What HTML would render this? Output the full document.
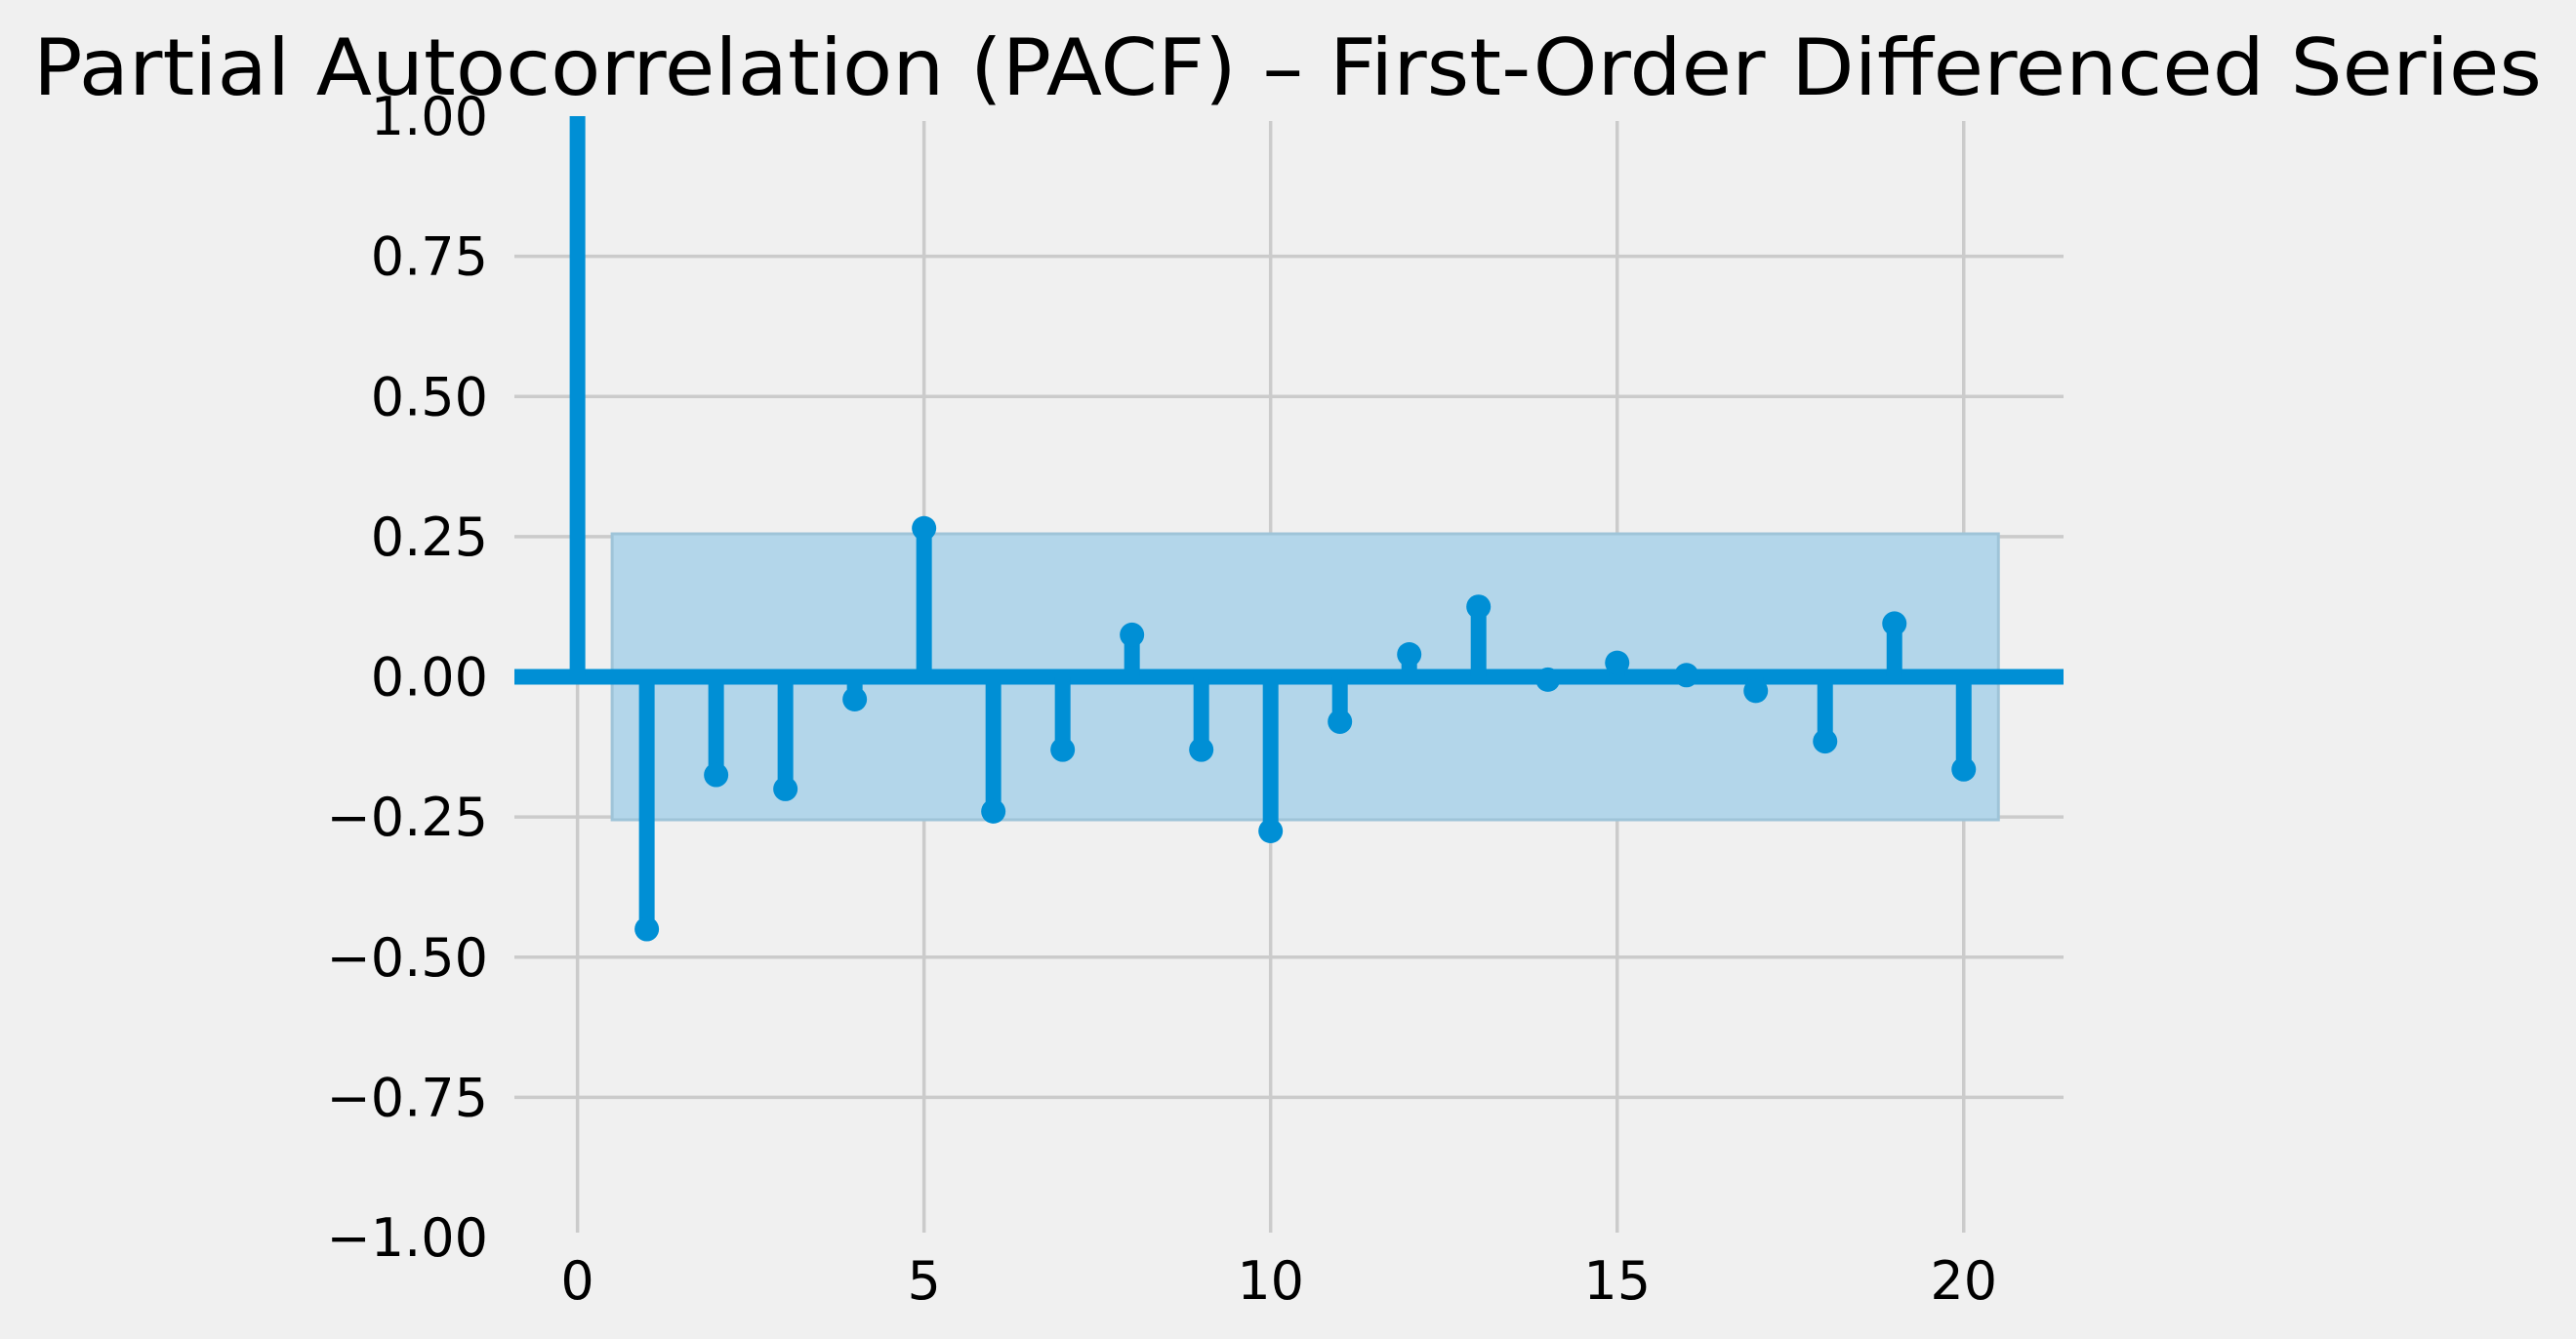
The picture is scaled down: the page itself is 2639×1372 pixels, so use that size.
<!DOCTYPE html>
<html><head><meta charset="utf-8"><style>
html,body{margin:0;padding:0;background:#f0f0f0;}
svg{display:block;font-family:"DejaVu Sans","Liberation Sans",sans-serif;}
</style></head><body>
<svg id="chart" width="2639" height="1372" viewBox="0 0 2639 1372" xmlns="http://www.w3.org/2000/svg">
<rect width="2639" height="1372" fill="#f0f0f0"/>
<text x="1319" y="97" text-anchor="middle" font-size="80" textLength="2570" lengthAdjust="spacingAndGlyphs" fill="#000">Partial Autocorrelation (PACF) – First-Order Differenced Series</text>
<g id="grid"></g><g id="band"></g><g id="stems"></g><g id="ticks"></g>
</svg>
<script>
const lags = [0,1,2,3,4,5,6,7,8,9,10,11,12,13,14,15,16,17,18,19,20];
const pacfValues = [1.0,-0.45,-0.175,-0.20,-0.04,0.265,-0.24,-0.13,0.075,-0.13,-0.275,-0.08,0.04,0.125,-0.005,0.025,0.003,-0.025,-0.115,0.095,-0.165];
const confBound = [0.255];
const yTicks = [1.0,0.75,0.5,0.25,0,-0.25,-0.5,-0.75,-1.0];
const yTickLabels = ["1.00","0.75","0.50","0.25","0.00","−0.25","−0.50","−0.75","−1.00"];
const xTicks = [0,5,10,15,20];
const xTickLabels = ["0","5","10","15","20"];

const NS="http://www.w3.org/2000/svg";
const X0=527,X1=2114,XMIN=-0.91,XMAX=21.44;
const Y0=119,Y1=1268,YMIN=-1,YMAX=1;
const xs=v=>X0+(v-XMIN)/(XMAX-XMIN)*(X1-X0);
const ys=v=>Y1-(v-YMIN)/(YMAX-YMIN)*(Y1-Y0);
function mk(tag,attrs,parent){const e=document.createElementNS(NS,tag);for(const k in attrs)e.setAttribute(k,attrs[k]);document.getElementById(parent).appendChild(e);return e;}

yTicks.forEach((v,i)=>{
  if(Math.abs(v)<1){
    const l=mk('line',{x1:X0,x2:X1,y1:ys(v),y2:ys(v),stroke:'#cbcbcb','stroke-width':3.5},'grid');
    
    
  }
  const t=mk('text',{x:500,y:ys(v)+19,'text-anchor':'end','font-size':54,fill:'#000'},'ticks');
  t.textContent=yTickLabels[i];
  
  
});
xTicks.forEach((v,i)=>{
  const l=mk('line',{x1:xs(v),x2:xs(v),y1:Y0+5,y2:Y1-5,stroke:'#cbcbcb','stroke-width':3.5},'grid');
  
  
  const t=mk('text',{x:xs(v),y:1331,'text-anchor':'middle','font-size':54,fill:'#000'},'ticks');
  t.textContent=xTickLabels[i];
  
  
});
const b=confBound[0];
const band=mk('rect',{x:xs(0.5),y:ys(b),width:xs(20.5)-xs(0.5),height:ys(-b)-ys(b),fill:'#b3d6ea',stroke:'#9fc4d8','stroke-width':3},'band');


const zl=mk('line',{x1:X0,x2:X1,y1:ys(0),y2:ys(0),stroke:'#008fd5','stroke-width':16},'stems');


lags.forEach((lag,i)=>{
  const v=pacfValues[i];
  const s=mk('line',{x1:xs(lag),x2:xs(lag),y1:ys(0),y2:ys(v),stroke:'#008fd5','stroke-width':16},'stems');
  
  
  const c=mk('circle',{cx:xs(lag),cy:ys(v),r:12.5,fill:'#008fd5'},'stems');
  if(ys(v)<=Y0+1){c.setAttribute('r',0);}
  
  
});
</script>
</body></html>
